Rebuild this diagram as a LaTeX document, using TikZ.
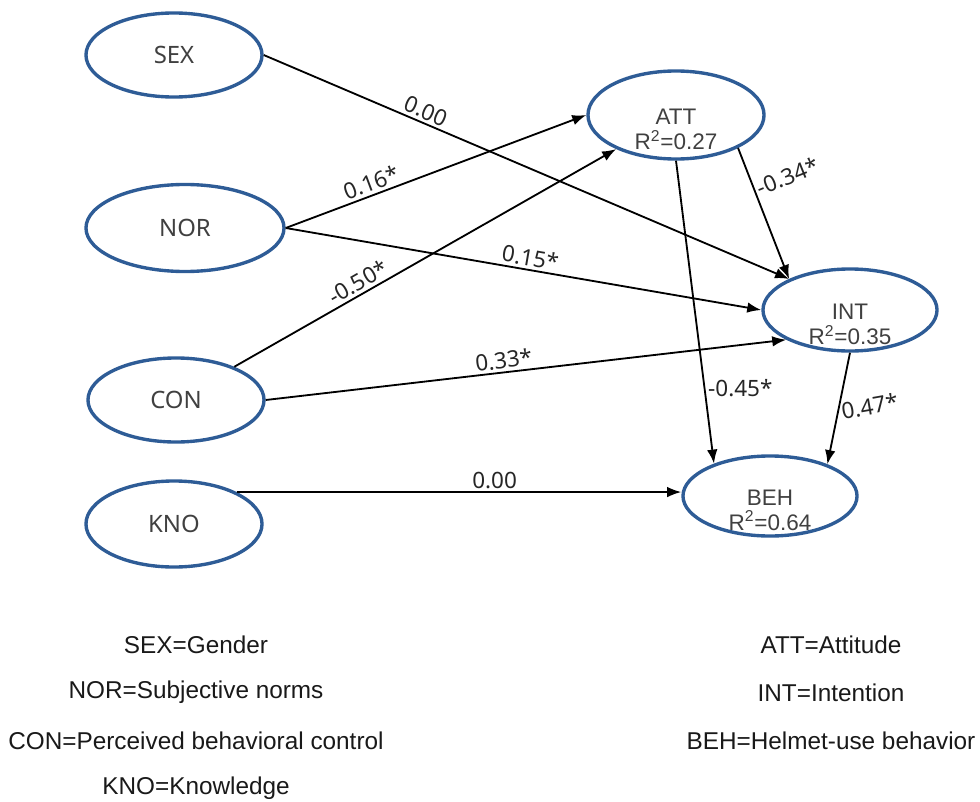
\documentclass[tikz,border=0pt]{standalone}
\usepackage{fontspec}
\setmainfont{Liberation Sans}
\newfontfamily\coeffont{Noto Sans}
\usetikzlibrary{positioning,arrows.meta,shapes.geometric}
\definecolor{semblue}{RGB}{46,92,150}

\begin{document}
\begin{tikzpicture}[
    x = 0.025cm,
    y = -0.025cm,
    latent/.style={
        draw = semblue,
        ellipse,
        line width = 2.4pt,
        minimum width = 4.4cm,
        minimum height = 2.1cm,
        inner sep = 0pt,
        text = black!75,
        font = \coeffont\fontsize{17}{20}\selectfont
    },
    endo/.style={
        align = center,
        text = black!75,
        font = \fontsize{16}{17.8}\selectfont
    },
    link/.style={
        ->,
        line width = 1.3pt
    },
    coef/.style={
        font = \coeffont\fontsize{16}{19}\selectfont,
        text = black!85,
        inner sep = 2pt
    },
    legtext/.style={
        font = \fontsize{17.3}{20}\selectfont,
        text = black!90
    },
    >={Latex[length=10pt,width=7.5pt]}
    ]

\useasboundingbox (0,0) rectangle (980,802);

% exogenous constructs
\node[latent] (sex) at (174,55) {SEX};
\node[latent, minimum width=4.95cm, minimum height=2.175cm] (nor) at (185,228) {NOR};
\node[latent] (con) at (176,400) {CON};
\node[latent, minimum height=2.15cm] (kno) at (174,524) {KNO};

% endogenous constructs
\node[latent, minimum height=2.2cm] (att) at (676,115) {};
\node[latent, minimum width=4.35cm, minimum height=2.05cm] (int) at (850,310) {};
\node[latent, minimum width=4.35cm, minimum height=2.0cm] (beh) at (770,496) {};
\node[endo, yshift=-10.5pt] (att-txt) at (att) {ATT\\R\textsuperscript{2}=0.27};
\node[endo, yshift=-10.5pt] (int-txt) at (int) {INT\\R\textsuperscript{2}=0.35};
\node[endo, yshift=-10pt] (beh-txt) at (beh) {BEH\\R\textsuperscript{2}=0.64};

% paths
\draw[link] (sex.east) -- node[coef, pos=.30, sloped, above] {0.00} (int.153);
\draw[link] (nor.east) -- node[coef, pos=.30, sloped, above] {0.16*} (att.west);
\draw[link] (nor.east) -- node[coef, pos=.51, sloped, above] {0.15*} (int.west);
\draw[link] (con) -- node[coef, pos=.34, sloped, above] {-0.50*} (att);
\draw[link] (con.east) -- node[coef, pos=.46, sloped, above] {0.33*} (int.205);
\draw[link] (kno.27) -- node[coef, pos=.58, above] {0.00} (kno.27 -| beh.west);
\draw[link] (att.south) -- node[coef, pos=.75, right] {-0.45*} (beh.150);
\draw[link] (att.332) -- node[coef, pos=.32, anchor=west, rotate=22] {-0.34*} (int.153);
\draw[link] (int.south) -- node[coef, pos=.53, anchor=west, rotate=10] {0.47*} (beh.29);

% legend
\foreach \txt [count=\i] in {SEX=Gender, NOR=Subjective norms, CON=Perceived behavioral control, KNO=Knowledge}
    \node[legtext] (lgl-\i) at (196,{645+47.7*(\i-1)}) {\txt};
\foreach \txt [count=\i] in {ATT=Attitude, INT=Intention, BEH=Helmet-use behavior}
    \node[legtext] (lgr-\i) at (831,{645+47.7*(\i-1)}) {\txt};
\end{tikzpicture}
\end{document}
